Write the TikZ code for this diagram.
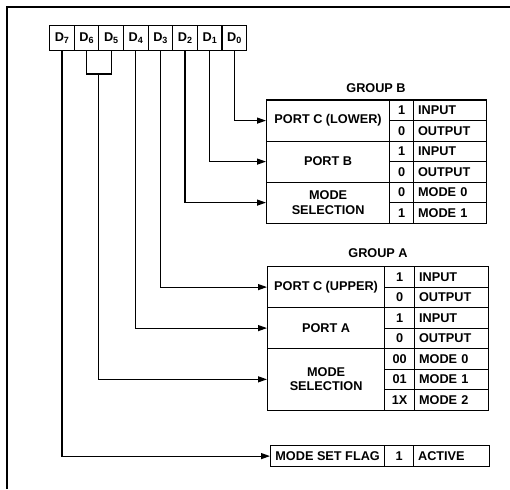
\documentclass[tikz,border=0pt]{standalone}
\usepackage{fontspec}
\setmainfont{Liberation Sans}
\usetikzlibrary{arrows.meta}
\newcommand{\bitlab}[1]{D\raisebox{-0.35ex}{\fontsize{9}{9}\selectfont #1}}
\begin{document}
\begin{tikzpicture}[x=1pt,y=-1pt,
  font=\fontsize{12.7}{14.5}\selectfont\bfseries,
  line width=1.2pt,
  arr/.style={-{Triangle[length=9pt,width=6pt]}},
  bitbox/.style={draw, anchor=north west, inner sep=0pt, minimum width=24.625pt, minimum height=25pt},
  lab/.style={draw, anchor=north west, inner sep=0pt, align=center},
  val/.style={draw, anchor=north west, inner sep=0pt, minimum height=20.5pt},
  dsc/.style={draw, anchor=north west, inner ysep=0pt, inner xsep=4.5pt, minimum height=20.5pt, align=left},
  grp/.style={inner sep=0pt}]
\useasboundingbox (0,0) rectangle (510,489);
% frame
\coordinate (fb) at (7,489);
\coordinate (fc) at (7,7);
\coordinate (fr) at (510,7);
\draw (fb) -- (fc) -- (fr);
% bit boxes
\node[bitbox] (b7) at (49,25) {\bitlab{7}};
\node[bitbox] (b6) at (73.625,25) {\bitlab{6}};
\node[bitbox] (b5) at (98.25,25) {\bitlab{5}};
\node[bitbox] (b4) at (122.875,25) {\bitlab{4}};
\node[bitbox] (b3) at (147.5,25) {\bitlab{3}};
\node[bitbox] (b2) at (172.125,25) {\bitlab{2}};
\node[bitbox] (b1) at (196.75,25) {\bitlab{1}};
\node[bitbox] (b0) at (221.375,25) {\bitlab{0}};
% group B
\node[grp] (gB) at (376,88) {GROUP B};
\node[lab, minimum width=123pt, minimum height=41pt] (pcl) at (266,99.5) {PORT C (LOWER)};
\node[val, minimum width=24pt] (pcl1) at (389,99.5) {1};
\node[val, minimum width=24pt] (pcl0) at (389,120) {0};
\node[dsc, text width=64pt] (pcl1d) at (413,99.5) {INPUT};
\node[dsc, text width=64pt] (pcl0d) at (413,120) {OUTPUT};
\node[lab, minimum width=123pt, minimum height=41pt] (pb) at (266,140.5) {PORT B};
\node[val, minimum width=24pt] (pb1) at (389,140.5) {1};
\node[val, minimum width=24pt] (pb0) at (389,161) {0};
\node[dsc, text width=64pt] (pb1d) at (413,140.5) {INPUT};
\node[dsc, text width=64pt] (pb0d) at (413,161) {OUTPUT};
\node[lab, minimum width=123pt, minimum height=41pt] (msb) at (266,181.5) {MODE\\SELECTION};
\node[val, minimum width=24pt] (msb0) at (389,181.5) {0};
\node[val, minimum width=24pt] (msb1) at (389,202) {1};
\node[dsc, text width=64pt] (msb0d) at (413,181.5) {MODE 0};
\node[dsc, text width=64pt] (msb1d) at (413,202) {MODE 1};
% group A
\node[grp] (gA) at (378,253) {GROUP A};
\node[lab, minimum width=117pt, minimum height=41pt] (pcu) at (267,266) {PORT C (UPPER)};
\node[val, minimum width=30pt] (pcu1) at (384,266) {1};
\node[val, minimum width=30pt] (pcu0) at (384,286.5) {0};
\node[dsc, text width=65pt] (pcu1d) at (414,266) {INPUT};
\node[dsc, text width=65pt] (pcu0d) at (414,286.5) {OUTPUT};
\node[lab, minimum width=117pt, minimum height=41pt] (pa) at (267,307) {PORT A};
\node[val, minimum width=30pt] (pa1) at (384,307) {1};
\node[val, minimum width=30pt] (pa0) at (384,327.5) {0};
\node[dsc, text width=65pt] (pa1d) at (414,307) {INPUT};
\node[dsc, text width=65pt] (pa0d) at (414,327.5) {OUTPUT};
\node[lab, minimum width=117pt, minimum height=61.5pt] (msa) at (267,348) {MODE\\SELECTION};
\node[val, minimum width=30pt] (msa0) at (384,348) {00};
\node[val, minimum width=30pt] (msa1) at (384,368.5) {01};
\node[val, minimum width=30pt] (msa2) at (384,389) {1X};
\node[dsc, text width=65pt] (msa0d) at (414,348) {MODE 0};
\node[dsc, text width=65pt] (msa1d) at (414,368.5) {MODE 1};
\node[dsc, text width=65pt] (msa2d) at (414,389) {MODE 2};
% mode set flag
\node[lab, minimum width=114pt, minimum height=21pt] (flag) at (270,445) {MODE SET FLAG};
\node[val, minimum width=29pt, minimum height=21pt] (flag1) at (384,445) {1};
\node[dsc, text width=67pt, minimum height=21pt] (flagd) at (413,445) {ACTIVE};
% connectors
\draw[arr] (b0.south) |- (pcl.west);
\draw[arr] (b1.south) |- (pb.west);
\draw[arr] (b2.south) |- (msb.west);
\draw[arr] (b3.south) |- (pcu.west);
\draw[arr] (b4.south) |- (pa.west);
\coordinate (j65) at (98.25,74);
\draw (b6.south) |- (j65) -| (b5.south);
\draw[arr] (j65) |- (msa.west);
\draw[arr] (b7.south) |- (flag.west);
\end{tikzpicture}
\end{document}
